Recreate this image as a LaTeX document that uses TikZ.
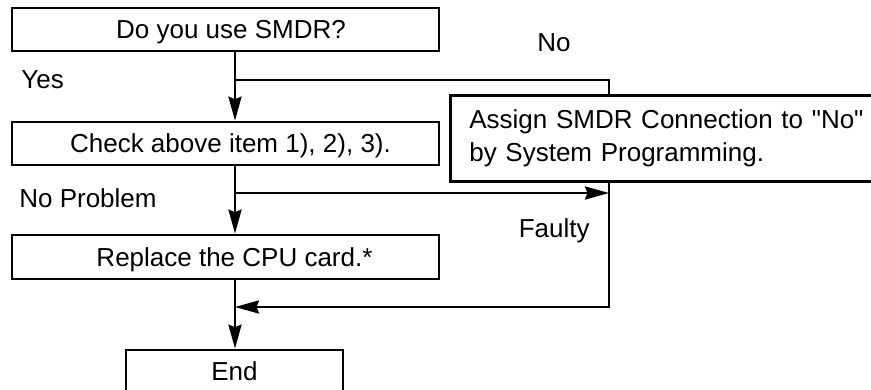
\documentclass[tikz,border=0pt]{standalone}
\usepackage{fontspec}
\setmainfont{Liberation Sans}
\usetikzlibrary{arrows.meta}
\newcommand\straightquote{\XeTeXglyph\XeTeXcharglyph"0022\relax}
\begin{document}
\begin{tikzpicture}[x=1pt,y=-1pt, line width=2.7pt,
  txt/.style={font=\fontsize{26}{32.5}\selectfont},
  box/.style={txt, draw, rectangle, inner sep=0pt, text height=18.6pt, text depth=0pt},
  lbl/.style={txt, inner sep=0pt, anchor=base west},
  arr/.style={-{Stealth[length=24pt,width=13pt,inset=2.5pt]}}]
\clip (0,0) rectangle (871,390);
\coordinate (spine) at (235,0);
\coordinate (rx) at (609,0);
\node[box, minimum width=427pt, minimum height=43pt] (q) at (225.5,29.5) {\hspace*{11pt}Do you use SMDR?};
\node[box, minimum width=427pt, minimum height=43pt] (c) at (225.5,143.5) {\hspace*{10pt}Check above item 1), 2), 3).};
\node[box, minimum width=427pt, minimum height=44pt] (r) at (225.5,257) {\hspace*{18pt}Replace the CPU card.*};
\node[box, minimum width=217pt, minimum height=42pt] (e) at (234.5,371) {End};
\node[txt, draw, fill=white, inner xsep=19pt, inner ysep=0pt, text width=398pt, align=left,
      minimum height=86pt, anchor=north west] (a) at (449,94)
      {Assign SMDR Connection to \straightquote No\straightquote\\by System Programming.};
\coordinate (yes) at (235,80);
\coordinate (flt) at (235,193);
\coordinate (ret) at (235,307);
\draw[arr] (q.south -| spine) -- (c.north -| spine);
\draw[arr] (c.south -| spine) -- (r.north -| spine);
\draw[arr] (r.south -| spine) -- (e.north -| spine);
\draw (yes) -| (a.north -| rx);
\draw[arr] (flt) -- (flt -| rx);
\draw[arr] (a.south -| rx) |- (ret);
\node[lbl] (lyes) at (20,89) {Yes};
\node[lbl] (lno) at (536,52) {No};
\node[lbl] (lnp) at (18,208) {No Problem};
\node[lbl, anchor=base east] (lf) at (591,238) {Faulty};
\end{tikzpicture}
\end{document}
